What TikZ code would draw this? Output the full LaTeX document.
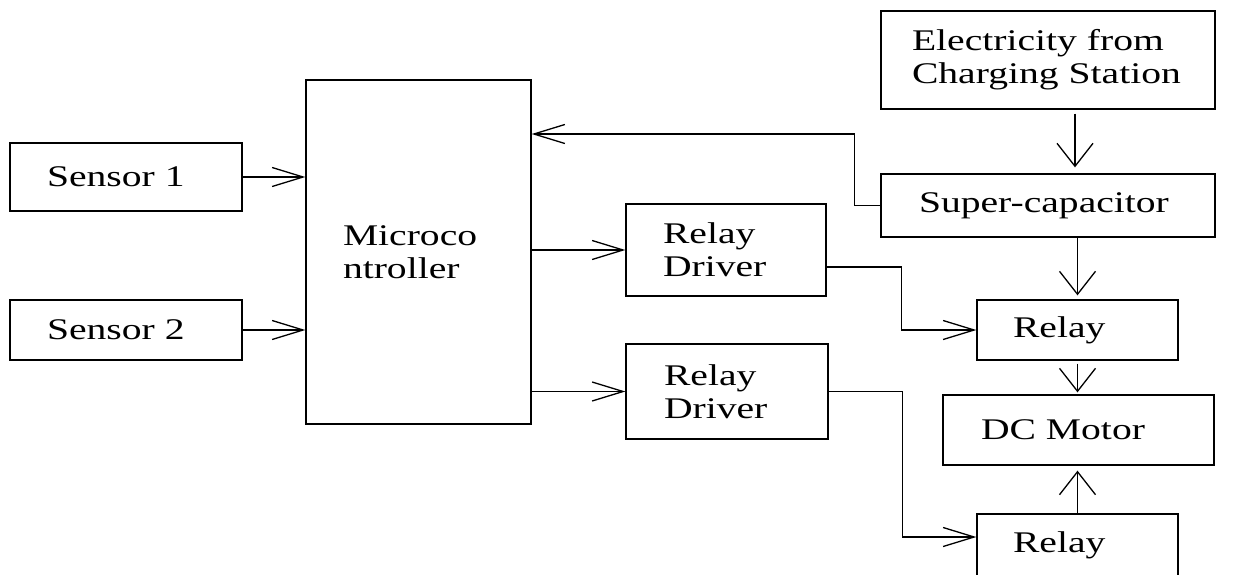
\documentclass[tikz,border=0pt]{standalone}
\usepackage{fontspec}
\setmainfont{Liberation Serif}[FakeStretch=1.32]
\usepackage{tikz}
\usetikzlibrary{arrows.meta, positioning}

\begin{document}
\begin{tikzpicture}[x=1pt, y=-1pt, line width=1.3pt,
    block/.style={draw, align=left, inner sep=0pt, font=\fontsize{30}{33}\selectfont},
    harrow/.style={-{Straight Barb[length=31pt, width=19pt]}},
    varrow/.style={-{Straight Barb[length=23pt, width=36pt]}}]
    \clip (0, 0) rectangle (1235, 574);

    \node[block, minimum width=232pt, minimum height=68pt, text width=158pt] (sensor1) at (126, 177) {Sensor 1};
    \node[block, minimum width=232pt, minimum height=60pt, text width=158pt] (sensor2) at (126, 330) {Sensor 2};
    \node[block, minimum width=225pt, minimum height=344pt, text width=151pt] (mcu) at (418.5, 252) {Microco\\ntroller};
    \node[block, minimum width=200pt, minimum height=92pt, text width=126pt] (driver1) at (726, 250) {Relay\\Driver};
    \node[block, minimum width=202pt, minimum height=95pt, text width=126pt] (driver2) at (727, 391.5) {Relay\\Driver};
    \node[block, minimum width=334pt, minimum height=98pt, text width=272pt] (elec) at (1048, 60) {Electricity from\\Charging Station};
    \node[block, minimum width=334pt, minimum height=63pt, text width=258pt] (supcap) at (1048, 205.5) {Super-capacitor};
    \node[block, minimum width=201pt, minimum height=60pt, text width=129pt] (relay1) at (1077.5, 330) {Relay};
    \node[block, minimum width=271pt, minimum height=70pt, text width=195pt] (motor) at (1078.5, 430) {DC Motor};
    \node[block, minimum width=201pt, minimum height=62pt, text width=129pt] (relay2) at (1077.5, 545) {Relay};

    \draw[harrow] (sensor1.east) -- (sensor1.east -| mcu.west);
    \draw[harrow] (sensor2.east) -- (sensor2.east -| mcu.west);
    \draw[harrow] (mcu.east |- driver1.west) -- (driver1.west);
    \draw[harrow] (mcu.east |- driver2.west) -- (driver2.west);
    \draw[harrow] (supcap.west) -- ++(-26, 0) |- ([yshift=118pt]mcu.east);
    \draw[varrow, shorten <=4pt, shorten >=6pt] ([xshift=27pt]elec.south) -- ([xshift=27pt]supcap.north);
    \draw[varrow, shorten >=4pt] (relay1.north |- supcap.south) -- (relay1.north);
    \draw[varrow, shorten <=3pt, shorten >=2pt] (relay1.south) -- (relay1.south |- motor.north);
    \draw[varrow, shorten >=5pt] (relay2.north) -- (relay2.north |- motor.south);
    \draw[harrow] ([yshift=-17pt]driver1.east) -- ++(75, 0) |- (relay1.west);
    \draw[harrow] (driver2.east) -- ++(74, 0) |- ([yshift=8pt]relay2.west);
\end{tikzpicture}
\end{document}
